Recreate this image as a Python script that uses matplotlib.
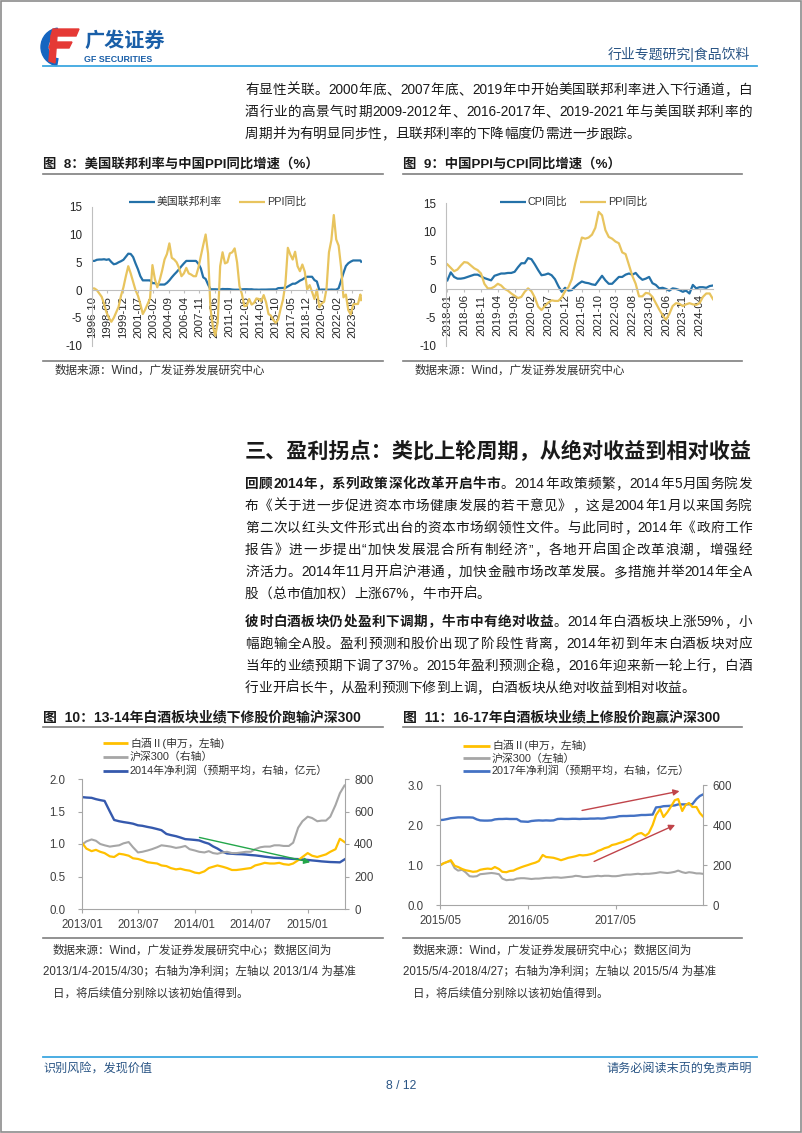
import re
import numpy as np
import pandas as pd
import matplotlib
matplotlib.use('Agg')
import matplotlib.pyplot as plt
from matplotlib.patches import Wedge, Polygon, Rectangle

plt.rcParams['font.family'] = ['Liberation Sans', 'Noto Sans CJK SC', 'DejaVu Sans']
plt.rcParams['axes.unicode_minus'] = False

# ---------------- data ----------------
# Fig 8: quarterly samples from 1996-10 (last point 2024-08)
fed_rate = [5.25,
            5.25, 5.45, 5.5, 5.5,   5.55, 5.45, 5.55, 5.05,   4.65, 4.75, 5.0, 5.2,
            5.45, 6.0, 6.55, 6.5,   5.95, 4.8, 3.75, 2.5,     1.75, 1.75, 1.75, 1.75,
            1.25, 1.25, 1.0, 1.0,   1.0, 1.0, 1.3, 1.75,      2.3, 2.8, 3.25, 3.75,
            4.3, 4.8, 5.25, 5.25,   5.25, 5.25, 5.25, 4.75,   3.9, 2.3, 2.0, 1.0,
            0.15, 0.15, 0.15, 0.12, 0.12, 0.2, 0.18, 0.19,    0.17, 0.1, 0.07, 0.07,
            0.08, 0.14, 0.16, 0.16, 0.14, 0.15, 0.09, 0.09,   0.07, 0.09, 0.09, 0.09,
            0.11, 0.12, 0.13, 0.12, 0.35, 0.37, 0.39, 0.4,    0.65, 0.9, 1.15, 1.15,
            1.4, 1.7, 1.9, 2.2,     2.4, 2.4, 2.4, 1.8,       1.55, 0.05, 0.1, 0.09,
            0.09, 0.07, 0.1, 0.08,  0.08, 0.33, 1.68, 3.08,   4.33, 4.83, 5.12, 5.33,
            5.33, 5.33, 5.33, 5.1]
ppi_q = [0.3,
         0.3, 0.0, -0.6, -1.2,   -2.5, -4.0, -5.0, -5.7,  -5.0, -4.0, -3.0, -1.0,
         0.5, 2.5, 4.3, 3.0,     1.5, 0.0, -1.0, -2.5,    -4.3, -3.5, -2.5, -1.5,
         4.5, 2.0, 0.5, 1.8,     3.5, 5.5, 6.5, 8.4,      5.8, 5.5, 5.0, 4.0,
         2.5, 3.0, 4.0, 3.0,     2.8, 2.5, 2.5, 4.0,      6.1, 8.1, 10.0, 6.6,
         -3.3, -6.6, -8.2, -5.8, 4.3, 6.8, 4.8, 5.0,      6.6, 6.8, 7.5, 5.0,
         0.7, -0.7, -2.9, -2.8,  -1.6, -2.6, -2.3, -1.5,  -1.6, -2.0, -0.9, -2.2,
         -4.3, -4.6, -5.4, -5.9, -5.3, -3.4, -1.7, 1.2,   7.6, 6.4, 5.5, 6.9,
         4.3, 3.4, 4.6, 3.3,     0.1, 0.9, -0.3, -1.6,    0.1, -3.1, -2.4, -2.1,
         0.3, 6.8, 9.0, 13.5,    9.1, 8.0, 4.2, -1.3,     -0.8, -3.6, -4.4, -2.6,
         -2.5, -2.5, -0.8, -1.8]
month8 = list(range(0, 334, 3)) + [334]
ticks8 = ['1996-10', '1998-05', '1999-12', '2001-07', '2003-02', '2004-09',
          '2006-04', '2007-11', '2009-06', '2011-01', '2012-08', '2014-03',
          '2015-10', '2017-05', '2018-12', '2020-07', '2022-02', '2023-09']

# Fig 9: monthly 2018-01 .. 2024-08
cpi_m = [1.5, 2.9, 2.1, 1.8, 1.8, 1.9, 2.1, 2.3, 2.5, 2.5, 2.2, 1.9,
         1.7, 1.5, 2.3, 2.5, 2.7, 2.7, 2.8, 2.8, 3.0, 3.8, 4.5, 4.5,
         5.4, 5.2, 4.3, 3.3, 2.4, 2.5, 2.7, 2.4, 1.7, 0.5, -0.5, 0.2,
         -0.3, -0.2, 0.4, 0.9, 1.3, 1.1, 1.0, 0.8, 0.7, 1.5, 2.3, 1.5,
         0.9, 0.9, 1.5, 2.1, 2.1, 2.5, 2.7, 2.5, 2.8, 2.1, 1.6, 1.8,
         2.1, 1.0, 0.7, 0.1, 0.2, 0.0, -0.3, 0.1, 0.0, -0.2, -0.5, -0.3,
         -0.8, 0.7, 0.1, 0.3, 0.3, 0.2, 0.5, 0.6]
ppi_m = [4.3, 3.7, 3.1, 3.4, 4.1, 4.7, 4.6, 4.1, 3.6, 3.3, 2.7, 0.9,
         0.1, 0.1, 0.4, 0.9, 0.6, 0.0, -0.3, -0.8, -1.2, -1.6, -1.4, -0.5,
         0.1, -0.4, -1.5, -3.1, -3.7, -3.0, -2.4, -2.0, -2.1, -2.1, -1.5, -0.4,
         0.3, 1.7, 4.4, 6.8, 9.0, 8.8, 9.0, 9.5, 10.7, 13.5, 12.9, 10.3,
         9.1, 8.8, 8.3, 8.0, 6.4, 6.1, 4.2, 2.3, 0.9, -1.3, -1.3, -0.7,
         -0.8, -1.4, -2.5, -3.6, -4.6, -5.4, -4.4, -3.0, -2.5, -2.6, -3.0, -2.7,
         -2.5, -2.7, -2.8, -2.5, -1.4, -0.8, -0.8, -1.8]
ticks9 = ['2018-01', '2018-06', '2018-11', '2019-04', '2019-09', '2020-02',
          '2020-07', '2020-12', '2021-05', '2021-10', '2022-03', '2022-08',
          '2023-01', '2023-06', '2023-11', '2024-04']

# Fig 10: semi-monthly 2013/1/4 .. 2015/4/30
baijiu10 = [1.00, 0.93, 0.89, 0.91, 0.88, 0.86, 0.81, 0.80, 0.85, 0.84, 0.82, 0.78,
            0.77, 0.75, 0.72, 0.71, 0.70, 0.67, 0.66, 0.63, 0.61, 0.62, 0.60, 0.59,
            0.56, 0.55, 0.58, 0.63, 0.65, 0.67, 0.65, 0.63, 0.60, 0.60, 0.61, 0.62,
            0.63, 0.67, 0.69, 0.71, 0.70, 0.70, 0.71, 0.69, 0.68, 0.70, 0.75, 0.80,
            0.86, 0.82, 0.80, 0.82, 0.84, 0.88, 0.92, 1.08, 1.03]
hs300_10 = [1.00, 1.04, 1.07, 1.05, 1.00, 0.98, 0.96, 0.97, 0.98, 1.01, 1.03, 0.95,
            0.87, 0.88, 0.90, 0.92, 0.95, 0.98, 0.97, 0.96, 0.94, 0.95, 0.97, 0.92,
            0.90, 0.88, 0.87, 0.89, 0.86, 0.85, 0.87, 0.88, 0.86, 0.86, 0.87, 0.88,
            0.88, 0.92, 0.95, 0.96, 0.96, 0.98, 0.98, 0.97, 0.97, 1.02, 1.25, 1.35,
            1.42, 1.40, 1.35, 1.36, 1.36, 1.42, 1.60, 1.78, 1.90]
profit14 = [688, 686, 684, 676, 670, 665, 600, 548, 540, 535, 530, 525,
            515, 512, 505, 500, 492, 485, 462, 455, 448, 440, 430, 428,
            425, 422, 410, 402, 385, 372, 352, 342, 340, 338, 337, 335,
            332, 330, 326, 322, 318, 315, 314, 312, 310, 308, 307, 305,
            302, 299, 296, 293, 291, 289, 288, 287, 305]
ticks10 = ['2013/01', '2013/07', '2014/01', '2014/07', '2015/01']

# Fig 11: semi-monthly 2015/5/4 .. 2018/4/27
baijiu11 = [1.00, 1.04, 1.08, 1.12, 0.98, 0.95, 0.90, 0.87, 0.85, 0.83, 0.84, 0.88,
            0.90, 0.91, 0.90, 0.95,
            0.90, 0.83, 0.82, 0.85, 0.86, 0.90, 0.94, 0.97, 1.00, 1.03, 1.06, 1.10,
            1.25, 1.20, 1.19, 1.18, 1.15, 1.12, 1.15, 1.18, 1.20, 1.22, 1.25, 1.24,
            1.25, 1.27, 1.30, 1.35, 1.38, 1.42, 1.45, 1.50, 1.52, 1.55, 1.58, 1.62,
            1.65, 1.72, 1.78, 1.80, 1.73, 1.80, 2.00, 2.25, 2.40, 2.20, 2.32, 2.45,
            2.62, 2.65, 2.35, 2.50, 2.55, 2.45, 2.45, 2.30, 2.22]
hs300_11 = [1.00, 1.04, 1.08, 1.10, 0.92, 0.86, 0.88, 0.82, 0.72, 0.71, 0.72, 0.77,
            0.78, 0.79, 0.80, 0.79,
            0.77, 0.66, 0.62, 0.63, 0.63, 0.66, 0.67, 0.67, 0.66, 0.65, 0.66, 0.66,
            0.67, 0.68, 0.68, 0.69, 0.69, 0.68, 0.69, 0.70, 0.71, 0.73, 0.72, 0.70,
            0.70, 0.71, 0.72, 0.73, 0.72, 0.73, 0.73, 0.72, 0.72, 0.73, 0.75, 0.76,
            0.76, 0.77, 0.78, 0.77, 0.78, 0.78, 0.79, 0.80, 0.82, 0.81, 0.80, 0.81,
            0.83, 0.86, 0.82, 0.80, 0.82, 0.81, 0.79, 0.79, 0.78]
profit17 = [425, 426, 430, 434, 436, 438, 438, 438, 438, 437, 428, 423,
            422, 422, 423, 428,
            430, 430, 431, 430, 430, 430, 418, 417, 416, 420, 422, 423,
            422, 423, 422, 423, 430, 431, 430, 430, 431, 431, 430, 431,
            431, 432, 432, 433, 432, 433, 437, 438, 440, 444, 445, 445,
            446, 446, 448, 450, 450, 451, 452, 488, 490, 494, 495, 496,
            498, 503, 503, 503, 504, 504, 530, 545, 552]
ticks11 = ['2015/05', '2016/05', '2017/05']

dates10 = pd.date_range('2013-01-01', '2015-04-15', freq='SMS')
dates10 = dates10[1:].insert(0, pd.Timestamp('2013-01-04')).append(pd.DatetimeIndex(['2015-04-30']))
dates11 = pd.date_range('2015-05-01', '2018-04-15', freq='SMS')
dates11 = dates11[1:].insert(0, pd.Timestamp('2015-05-04')).append(pd.DatetimeIndex(['2018-04-27']))

# ---------------- page ----------------
W, H = 802, 1133
fig = plt.figure(figsize=(W / 100, H / 100), dpi=100)
bg = fig.add_axes([0, 0, 1, 1])
bg.set_xlim(0, W)
bg.set_ylim(H, 0)
bg.axis('off')
renderer = fig.canvas.get_renderer()

DARK = '#1a1a1a'
GRID = '#a6a6a6'


def panel(x0, y0, x1, y1):
    return fig.add_axes([x0 / W, 1 - y1 / H, (x1 - x0) / W, (y1 - y0) / H])


def body_line(y, parts, size=9.8, x0=245, x1=752, justify=True):
    items = []
    for s, bold in parts:
        for tok in re.findall(r'[A-Za-z0-9%./\-]+|.', s):
            t = bg.text(0, y, tok, fontsize=size, fontweight='bold' if bold else 'normal',
                        va='center', ha='left', color=DARK)
            items.append((t, t.get_window_extent(renderer).width))
    total = sum(w for _, w in items)
    gap = (x1 - x0 - total) / (len(items) - 1) if justify and len(items) > 1 else 0
    x = x0
    for t, w in items:
        t.set_x(x)
        x += w + gap


def legend_entry(x0, x1, y, color, label, lw=1.6, size=7.8):
    bg.plot([x0, x1], [y, y], color=color, lw=lw, solid_capstyle='butt')
    bg.text(x1 + 2, y, label, fontsize=size, va='center', ha='left', color='#333333')


# border
bg.add_patch(Rectangle((1, 1), W - 2.5, H - 2.5, fill=False, edgecolor='#8c8c8c', lw=1.2))

# logo
bg.add_patch(Wedge((60, 47), 19, 100, 262, width=7, color='#1565c0'))
bg.add_patch(Polygon([(53, 29), (79, 29), (76, 36), (51, 36)], color='#e53935'))
bg.add_patch(Polygon([(51, 42), (72, 42), (69, 48), (49, 48)], color='#e53935'))
bg.add_patch(Polygon([(51, 36), (57, 36), (55, 63), (49, 61)], color='#e53935'))
bg.text(84, 41, '广发证券', fontsize=14.5, fontweight='bold', color='#1a5fa8', va='center', ha='left')
bg.text(84, 60, 'GF SECURITIES', fontsize=6.4, fontweight='bold', color='#1a5fa8', va='center', ha='left')

# header / footer
bg.text(750, 54, '行业专题研究|食品饮料', fontsize=10, color='#2a5585', va='center', ha='right')
bg.plot([43, 757], [66, 66], color='#3da7e0', lw=1.3)
bg.plot([43, 757], [1057, 1057], color='#3da7e0', lw=1.3)
bg.text(43, 1069, '识别风险，发现价值', fontsize=8.7, color='#2a5585', va='center', ha='left')
bg.text(752, 1069, '请务必阅读末页的免责声明', fontsize=8.7, color='#2a5585', va='center', ha='right')
bg.text(W / 2, 1086, '8 / 12', fontsize=8.7, color='#2a5585', va='center', ha='center')

# top paragraph
body_line(90, [('有显性关联。2000年底、2007年底、2019年中开始美国联邦利率进入下行通道，白', False)])
body_line(112, [('酒行业的高景气时期2009-2012年、2016-2017年、2019-2021年与美国联邦利率的', False)])
body_line(134, [('周期并为有明显同步性，且联邦利率的下降幅度仍需进一步跟踪。', False)], justify=False)

# section heading and paragraphs
bg.text(245, 451, '三、盈利拐点：类比上轮周期，从绝对收益到相对收益', fontsize=15.2,
        fontweight='bold', color=DARK, va='center', ha='left')
body_line(484, [('回顾2014年，系列政策深化改革开启牛市', True), ('。2014年政策频繁，2014年5月国务院发', False)])
body_line(506, [('布《关于进一步促进资本市场健康发展的若干意见》，这是2004年1月以来国务院', False)])
body_line(528, [('第二次以红头文件形式出台的资本市场纲领性文件。与此同时，2014年《政府工作', False)])
body_line(550, [('报告》进一步提出“加快发展混合所有制经济”，各地开启国企改革浪潮，增强经', False)])
body_line(572, [('济活力。2014年11月开启沪港通，加快金融市场改革发展。多措施并举2014年全A', False)])
body_line(594, [('股（总市值加权）上涨67%，牛市开启。', False)], justify=False)
body_line(622, [('彼时白酒板块仍处盈利下调期，牛市中有绝对收益', True), ('。2014年白酒板块上涨59%，小', False)])
body_line(644, [('幅跑输全A股。盈利预测和股价出现了阶段性背离，2014年初到年末白酒板块对应', False)])
body_line(666, [('当年的业绩预期下调了37%。2015年盈利预测企稳，2016年迎来新一轮上行，白酒', False)])
body_line(688, [('行业开启长牛，从盈利预测下修到上调，白酒板块从绝对收益到相对收益。', False)], justify=False)

# chart frames: titles, rules, sources
for x0, x1, title in [(43, 383, '图  8：美国联邦利率与中国PPI同比增速（%）'),
                      (403, 742, '图  9：中国PPI与CPI同比增速（%）')]:
    bg.text(x0, 164, title, fontsize=9.6, fontweight='bold', color=DARK, va='center', ha='left')
    bg.plot([x0, x1], [174, 174], color='#7f7f7f', lw=1.2)
    bg.plot([x0, x1], [361, 361], color='#7f7f7f', lw=1.2)
    bg.text(x0 + 12, 371, '数据来源：Wind，广发证券发展研究中心', fontsize=8.3, color='#333333',
            va='center', ha='left')

src10 = ['数据来源：Wind，广发证券发展研究中心；数据区间为',
         '2013/1/4-2015/4/30；右轴为净利润；左轴以 2013/1/4 为基准',
         '日，将后续值分别除以该初始值得到。']
src11 = ['数据来源：Wind，广发证券发展研究中心；数据区间为',
         '2015/5/4-2018/4/27；右轴为净利润；左轴以 2015/5/4 为基准',
         '日，将后续值分别除以该初始值得到。']
for x0, x1, title, src in [(43, 383, '图  10：13-14年白酒板块业绩下修股价跑输沪深300', src10),
                           (403, 742, '图  11：16-17年白酒板块业绩上修股价跑赢沪深300', src11)]:
    bg.text(x0, 717, title, fontsize=10, fontweight='bold', color=DARK, va='center', ha='left')
    bg.plot([x0, x1], [727, 727], color='#7f7f7f', lw=1.2)
    bg.plot([x0, x1], [938, 938], color='#7f7f7f', lw=1.2)
    for i, s in enumerate(src):
        bg.text(x0 + (10 if i != 1 else 0), 950 + 21.8 * i, s, fontsize=8.3, color='#333333',
                va='center', ha='left')

# ---------------- fig 8 ----------------
C_BLUE = '#2471a8'
C_GOLD = '#e8c45e'


def style_yoy(ax, ticks, labels):
    ax.set_ylim(-10, 15)
    ax.set_yticks([-10, -5, 0, 5, 10, 15])
    for s in ['top', 'right']:
        ax.spines[s].set_visible(False)
    ax.spines['bottom'].set_position(('data', 0))
    ax.spines['bottom'].set_color('#bfbfbf')
    ax.spines['left'].set_color('#bfbfbf')
    ax.set_xticks(ticks)
    ax.set_xticklabels(labels, rotation=90, fontsize=8.2, color='#262626')
    ax.tick_params(axis='x', length=2, color='#bfbfbf', pad=2)
    ax.tick_params(axis='y', length=0, labelsize=8.4, labelcolor='#262626', pad=7)
    ax.patch.set_visible(False)


ax8 = panel(92, 206.7, 362, 345.7)
ax8.plot(month8, fed_rate, color=C_BLUE, lw=1.6)
ax8.plot(month8, ppi_q, color=C_GOLD, lw=1.6)
ax8.set_xlim(0, 335)
style_yoy(ax8, [19 * i for i in range(len(ticks8))], ticks8)
legend_entry(129, 155, 201.7, C_BLUE, '美国联邦利率')
legend_entry(239, 265, 201.7, C_GOLD, 'PPI同比')

# ---------------- fig 9 ----------------
ax9 = panel(445.7, 203.3, 713, 346)
months9 = np.arange(len(cpi_m))
ax9.plot(months9, cpi_m, color=C_BLUE, lw=1.6)
ax9.plot(months9, ppi_m, color=C_GOLD, lw=1.6)
ax9.set_xlim(-0.5, 79)
style_yoy(ax9, [5 * i for i in range(len(ticks9))], ticks9)
legend_entry(500, 526, 201.7, C_BLUE, 'CPI同比')
legend_entry(580, 606, 201.7, C_GOLD, 'PPI同比')


# ---------------- fig 10 / 11 ----------------
def style_dual(ax, ax2):
    ax.set_zorder(ax2.get_zorder() + 1)
    ax.patch.set_visible(False)
    for a in (ax, ax2):
        a.spines['top'].set_visible(False)
    ax.spines['right'].set_visible(False)
    ax2.spines['left'].set_visible(False)
    ax2.spines['bottom'].set_visible(False)
    for a, s in [(ax, 'left'), (ax, 'bottom'), (ax2, 'right')]:
        a.spines[s].set_color(GRID)
    ax.tick_params(axis='both', length=3, color=GRID, labelsize=8.3, labelcolor='#404040')
    ax.tick_params(axis='y', pad=9)
    ax.tick_params(axis='x', pad=4)
    ax2.tick_params(axis='y', length=3, color=GRID, labelsize=8.3, labelcolor='#404040', pad=4)


C_YEL = '#ffc000'
C_GRY = '#a6a6a6'

ax10 = panel(82, 779, 344.5, 909)
ax10b = ax10.twinx()
ax10b.plot(dates10, profit14, color='#3559ad', lw=1.7)
ax10.plot(dates10, hs300_10, color=C_GRY, lw=1.5)
ax10.plot(dates10, baijiu10, color=C_YEL, lw=1.6)
ax10.set_xlim(pd.Timestamp('2013-01-01'), pd.Timestamp('2015-04-30'))
ax10.set_ylim(0, 2)
ax10.set_yticks([0, 0.5, 1.0, 1.5, 2.0])
ax10.set_yticklabels(['0.0', '0.5', '1.0', '1.5', '2.0'])
ax10b.set_ylim(0, 800)
ax10b.set_yticks([0, 200, 400, 600, 800])
ax10.set_xticks(pd.to_datetime([t.replace('/', '-') + '-01' for t in ticks10]))
ax10.set_xticklabels(ticks10)
style_dual(ax10, ax10b)
ax10.annotate('', xy=(pd.Timestamp('2015-01-18'), 0.71), xytext=(pd.Timestamp('2014-01-07'), 1.11),
              arrowprops=dict(arrowstyle='-|>', color='#23a64a', lw=1.0, mutation_scale=9))
legend_entry(103, 128, 743, C_YEL, '白酒Ⅱ(申万，左轴)', lw=2)
legend_entry(103, 128, 757, C_GRY, '沪深300（右轴）', lw=2)
legend_entry(103, 128, 771, '#3559ad', '2014年净利润（预期平均，右轴，亿元）', lw=2)

ax11 = panel(440, 785, 702.7, 905)
ax11b = ax11.twinx()
ax11b.plot(dates11, profit17, color='#4472c4', lw=1.7)
ax11.plot(dates11, hs300_11, color=C_GRY, lw=1.5)
ax11.plot(dates11, baijiu11, color=C_YEL, lw=1.6)
ax11.set_xlim(pd.Timestamp('2015-05-01'), pd.Timestamp('2018-04-27'))
ax11.set_ylim(0, 3)
ax11.set_yticks([0, 1, 2, 3])
ax11.set_yticklabels(['0.0', '1.0', '2.0', '3.0'])
ax11b.set_ylim(0, 600)
ax11b.set_yticks([0, 200, 400, 600])
ax11.set_xticks(pd.to_datetime([t.replace('/', '-') + '-01' for t in ticks11]))
ax11.set_xticklabels(ticks11)
style_dual(ax11, ax11b)
for start, end in [((pd.Timestamp('2016-11-30'), 2.35), (pd.Timestamp('2018-02-01'), 2.86)),
                   ((pd.Timestamp('2017-01-20'), 1.06), (pd.Timestamp('2018-01-13'), 2.03))]:
    ax11.annotate('', xy=end, xytext=start,
                  arrowprops=dict(arrowstyle='-|>', color='#c0444a', lw=1.0, mutation_scale=9))
legend_entry(463, 490, 745.7, C_YEL, '白酒Ⅱ(申万，左轴)', lw=2)
legend_entry(463, 490, 758.3, C_GRY, '沪深300（左轴）', lw=2)
legend_entry(463, 490, 771, '#4472c4', '2017年净利润（预期平均，右轴，亿元）', lw=2)

fig.savefig('out.png', dpi=100)
